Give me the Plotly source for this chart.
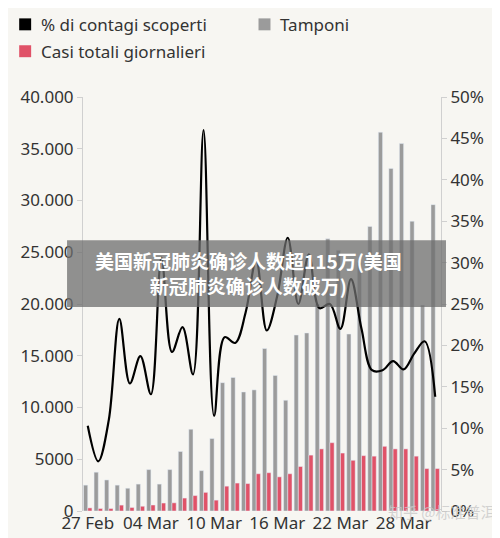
import plotly.graph_objects as go

days = ["27 Feb", "28 Feb", "29 Feb"] + [f"{d:02d} Mar" for d in range(1, 32)]
tamponi = [2500, 3750, 3000, 2500, 2200, 2600, 4000, 2600, 4000, 5750, 7900, 3900, 7000,
           12400, 12900, 11500, 11700, 15700, 13100, 10700, 17000, 17200, 20000, 26300,
           25200, 17100, 24000, 27500, 36600, 33100, 35500, 28000, 19900, 29600]
casi = [300, 240, 240, 570, 340, 460, 580, 770, 790, 1250, 1490, 1800, 1050, 2400, 2700,
        2650, 3600, 3700, 3300, 3600, 4300, 5400, 6000, 6600, 5600, 4900, 5350, 5300,
        6250, 6000, 6000, 5300, 4100, 4100]
perc = [10.3, 6.0, 11, 23.2, 15.4, 18.7, 14.1, 30.6, 19.2, 22.2, 16.5, 46, 11.5, 21,
        20.3, 24, 30.3, 21.8, 26, 33, 25, 31, 24.5, 25, 22, 28, 22, 17, 17, 18.1, 17.1,
        19, 20.5, 13.8]
tick_days = ["27 Feb", "04 Mar", "10 Mar", "16 Mar", "22 Mar", "28 Mar"]
left_ticks = [0, 5000, 10000, 15000, 20000, 25000, 30000, 35000, 40000]
left_text = ["0", "5000", "10.000", "15.000", "20.000", "25.000", "30.000", "35.000", "40.000"]
right_ticks = [0, 5, 10, 15, 20, 25, 30, 35, 40, 45, 50]

x = list(range(len(days)))
GRAY, RED, BG = "#9b9b9b", "#e05268", "#f7f6f2"
font = dict(family="Noto Sans", color="#333")

fig = go.Figure()
fig.add_trace(go.Bar(x=x, y=tamponi, marker_color=GRAY, name="Tamponi"))
fig.add_trace(go.Bar(x=x, y=casi, marker_color=RED, name="Casi totali giornalieri"))
fig.add_trace(go.Scatter(x=x, y=perc, yaxis="y2", mode="lines",
                         line=dict(color="black", width=2.2, shape="spline", smoothing=1),
                         name="% di contagi scoperti"))

axcommon = dict(showgrid=False, zeroline=False, showline=True, linecolor="#d0d0d0",
                ticks="outside", tickcolor="#d0d0d0", ticklen=5, tickfont=dict(size=17, **font))
fig.update_layout(
    width=500, height=538, paper_bgcolor=BG, plot_bgcolor=BG, font=font,
    margin=dict(l=74, r=67, t=89, b=33), showlegend=False,
    barmode="group", bargap=0.2, bargroupgap=0,
    xaxis=dict(range=[-0.45, 33.55], tickvals=[days.index(d) for d in tick_days],
               ticktext=tick_days, showgrid=False, zeroline=False, showline=False,
               ticks="", tickfont=dict(size=17, **font)),
    yaxis=dict(range=[0, 40000], tickvals=left_ticks, ticktext=left_text, **axcommon),
    yaxis2=dict(range=[0, 50], tickvals=right_ticks, ticktext=[f"{v}%" for v in right_ticks],
                overlaying="y", side="right", **axcommon),
)

# legend drawn by hand
legend = [(10, 16, "black", "% di contagi scoperti"), (250, 16, GRAY, "Tamponi"),
          (10, 43, RED, "Casi totali giornalieri")]
for px, py, col, txt in legend:
    x0 = (px - 74) / 359
    y0 = (505 - py) / 416
    fig.add_shape(type="rect", xref="paper", yref="paper", x0=x0, x1=x0 + 12 / 359,
                  y0=y0 - 6 / 416, y1=y0 + 6 / 416, fillcolor=col, line_width=0)
    fig.add_annotation(xref="paper", yref="paper", x=x0 + 20 / 359, y=y0, text=txt,
                       showarrow=False, xanchor="left", yanchor="middle",
                       font=dict(size=17, **font))

# banner overlay
fig.add_shape(type="rect", xref="paper", yref="paper", x0=(58 - 74) / 359, x1=(438 - 74) / 359,
              y0=(505 - 300) / 416, y1=(505 - 233) / 416, fillcolor="rgba(110,110,110,0.75)",
              line_width=0)
fig.add_annotation(xref="paper", yref="paper", x=(240 - 74) / 359, y=(505 - 266) / 416,
                   text="<b>美国新冠肺炎确诊人数超115万(美国<br>新冠肺炎确诊人数破万)</b>",
                   showarrow=False, align="center",
                   font=dict(family="Noto Sans CJK SC", size=19, color="white"))
fig.add_annotation(xref="paper", yref="paper", x=(490 - 74) / 359, y=(505 - 518) / 416,
                   text="知乎 @标准普洱", showarrow=False, xanchor="right",
                   font=dict(family="Noto Sans CJK SC", size=15, color="rgba(200,200,200,0.8)"))

fig.write_html("out.html")
